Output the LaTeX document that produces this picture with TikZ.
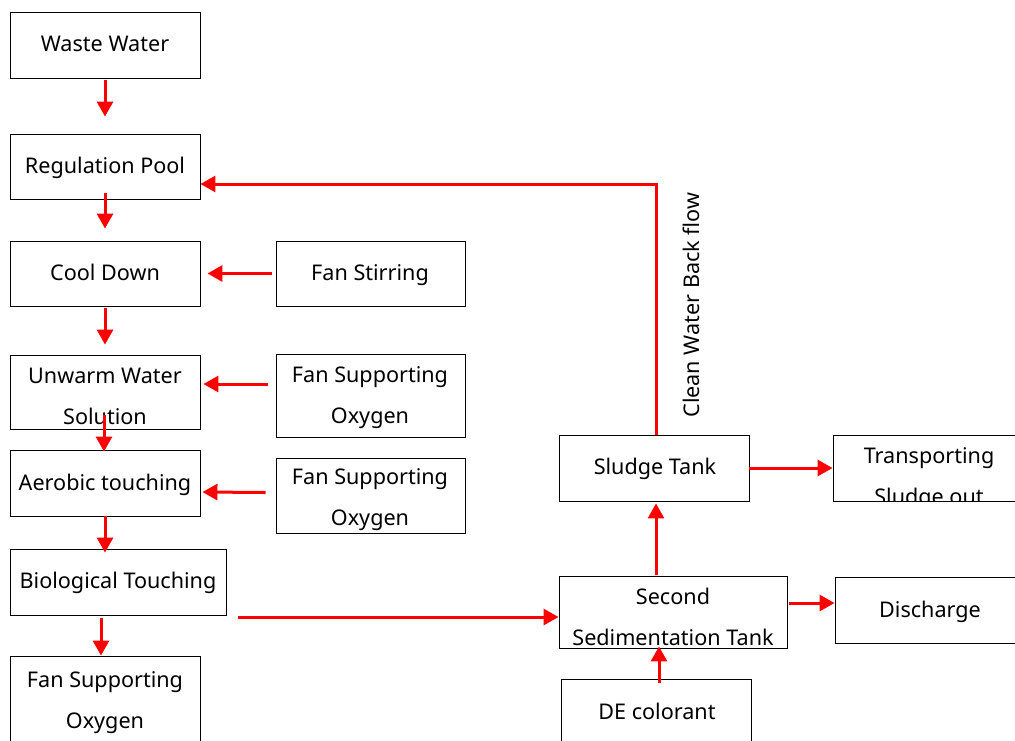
\documentclass[tikz,border=0pt]{standalone}
\usepackage{fontspec}
\setmainfont{Noto Sans}
\usetikzlibrary{arrows.meta,calc}
\begin{document}
\begin{tikzpicture}[x=1pt,y=-1pt,
  box/.style={draw=black,line width=0.9pt,rectangle,inner sep=0pt},
  txt/.style={inner sep=0pt,align=center,text height=15pt,text depth=0pt,
    font=\fontsize{21.6}{41}\selectfont},
  flow/.style={draw=red,line width=3pt,-{Triangle[length=15pt,width=16pt]}}]
\useasboundingbox (0,0) rectangle (1015,740);
\clip (0,0) rectangle (1015,740);

% process boxes
\node[box,minimum width=190pt,minimum height=66pt] (ww)   at (105,45)    {};
\node[box,minimum width=190pt,minimum height=65pt] (rp)   at (105,166.5) {};
\node[box,minimum width=190pt,minimum height=65pt] (cd)   at (105,273.5) {};
\node[box,minimum width=190pt,minimum height=74pt] (uw)   at (105,392)   {};
\node[box,minimum width=190pt,minimum height=66pt] (ae)   at (105,483)   {};
\node[box,minimum width=216pt,minimum height=66pt] (bio)  at (118,582)   {};
\node[box,minimum width=190pt,minimum height=104pt] (fso3) at (105,708)  {};
\node[box,minimum width=189pt,minimum height=65pt] (fs)   at (370.5,273.5) {};
\node[box,minimum width=189pt,minimum height=83pt] (fso1) at (370.5,395.5) {};
\node[box,minimum width=189pt,minimum height=75pt] (fso2) at (370.5,495.5) {};
\node[box,minimum width=190pt,minimum height=66pt] (st)   at (654,468)   {};
\node[box,minimum width=197pt,minimum height=66pt] (tso)  at (931.5,468) {};
\node[box,minimum width=228pt,minimum height=72pt] (sed)  at (673,612)   {};
\node[box,minimum width=195pt,minimum height=66pt] (dis)  at (932.5,610) {};
\node[box,minimum width=190pt,minimum height=81pt] (de)   at (656,719.5) {};

% box texts
\node[txt] (tww)   at (105,44)    {Waste Water};
\node[txt] (trp)   at (105,166)   {Regulation Pool};
\node[txt] (tcd)   at (105,273)   {Cool Down};
\node[txt] (tuw)   at (105,417)   {Unwarm Water\\Solution};
\node[txt] (tae)   at (105,483)   {Aerobic touching};
\node[txt] (tbio)  at (118,581)   {Biological Touching};
\node[txt] (tfso3) at (105,720.5) {Fan Supporting\\Oxygen};
\node[txt] (tfs)   at (370,273)   {Fan Stirring};
\node[txt] (tfso1) at (370,415.5) {Fan Supporting\\Oxygen};
\node[txt] (tfso2) at (370,517.5) {Fan Supporting\\Oxygen};
\node[txt] (tst)   at (655,467)   {Sludge Tank};
\begin{scope}
  \clip (tso.north west) rectangle (tso.south east);
  \node[txt] (ttso) at (929,497) {Transporting\\Sludge out};
\end{scope}
\node[txt] (tsed)  at (673,637.5) {Second\\Sedimentation Tank};
\node[txt] (tdis)  at (930,610)   {Discharge};
\node[txt] (tde)   at (657,712)   {DE colorant};
\node[txt,rotate=90] (tback) at (692,305) {Clean Water Back flow};

% main line
\draw[flow] ($(ww.south)+(0,2)$)   -- ($(rp.north)+(0,-17)$);
\draw[flow] ($(rp.south)+(0,-6)$)  -- ($(cd.north)+(0,-12)$);
\draw[flow] ($(cd.south)+(0,2)$)   -- ($(uw.north)+(0,-10)$);
\draw[flow] ($(uw.south)+(-1,-14)$) -- ($(ae.north)+(-1,2)$);
\draw[flow] ($(ae.south)+(0,0)$)   -- ($(bio.north)+(-13,4)$);
\draw[flow] ($(bio.south)+(-17,3)$) -- ($(fso3.north)+(-4,0)$);

% side inputs
\draw[flow] ($(fs.west)+(-4,0)$)        -- ($(cd.east)+(7,0)$);
\draw[flow] ($(fso1.west)+(-8,-11.5)$)  -- ($(uw.east)+(3,-8)$);
\draw[flow] ($(fso2.west)+(-10,-3)$)    -- ($(ae.east)+(2,9)$);

% sedimentation and sludge
\draw[flow] ($(bio.east)+(12,35)$)  -- ($(sed.west)+(0,5)$);
\draw[flow] ($(sed.north)+(-17,-1)$) -- ($(st.south)+(2,2)$);
\draw[flow] ($(de.north)+(3,4)$)    -- ($(sed.south)+(-14,-2)$);
\draw[flow] ($(sed.east)+(2,-9)$)   -- ($(dis.west)+(0,-7)$);
\draw[flow] (st.east) -- (tso.west);
\draw[flow] ($(st.north)+(2,0)$) |- ($(rp.east)+(0,17.5)$);
\end{tikzpicture}
\end{document}
